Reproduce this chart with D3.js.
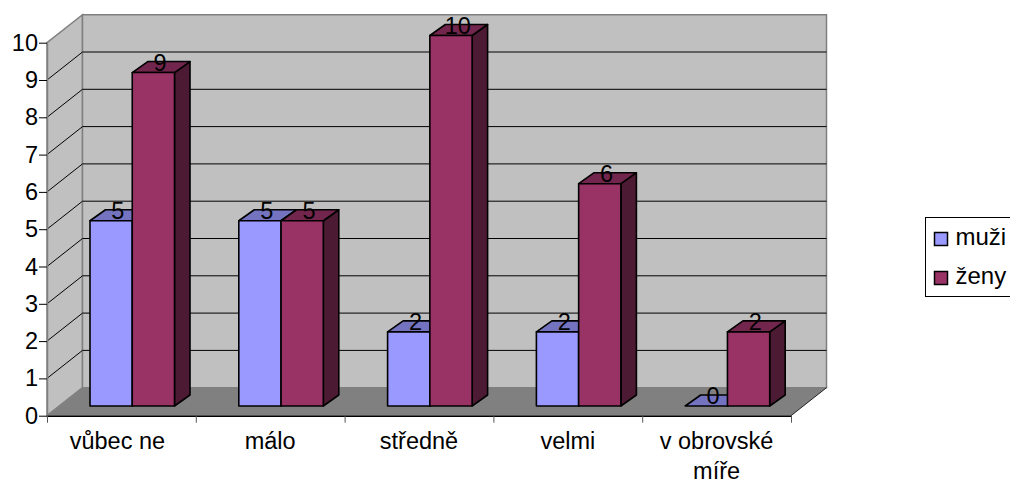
<!DOCTYPE html>
<html lang="cs">
<head>
<meta charset="utf-8">
<script src="https://cdn.jsdelivr.net/npm/d3@7"></script>
<style>
  html, body { margin: 0; padding: 0; background: #fff; overflow: hidden; }
  svg { display: block; }
  text { font-family: "Liberation Sans", Arial, sans-serif; fill: #000; }
</style>
</head>
<body>
<svg id="chart" width="1010" height="482"></svg>
<script>
// Survey answers split by gender
const categories = [["vůbec ne"], ["málo"], ["středně"], ["velmi"], ["v obrovské", "míře"]];
const seriesNames = ["muži", "ženy"];
const muzi = [5, 5, 2, 2, 0];
const zeny = [9, 5, 10, 6, 2];
const yTicks = [0, 1, 2, 3, 4, 5, 6, 7, 8, 9, 10];

const frontColors = ["#9999ff", "#993366"];
const topColors = ["#7373bf", "#73264d"];
const sideColors = ["#4d4d80", "#4d1a33"];

const svg = d3.select("#chart");

// Oblique projection: the front plane, plus a shift for the full box depth
const depth = { dx: 35.5, dy: -28 };
const x = d3.scaleLinear().domain([0, categories.length]).range([47, 791]);
const y = d3.scaleLinear().domain([0, 10]).range([415.7, 42.7]);

// Bars stand part-way into the box, with their own vertical scale and shallower depth
const barY = d3.scaleLinear().domain([0, 10]).range([406, 35.5]);
const barDepth = { dx: 15.5, dy: -11 };
const bandInner = d3.scaleBand().domain(d3.range(seriesNames.length)).range([43, 127.5]);
const barX = (c, s) => x(c) + bandInner(s);

const poly = pts => pts.map(p => p.join(",")).join(" ");

// Side wall, back wall and floor
const x0 = x(0), x1 = x(categories.length), yb = y(0), yt = y(10);
svg.append("polygon")
  .attr("points", poly([[x0, yb], [x0 + depth.dx, yb + depth.dy], [x0 + depth.dx, yt + depth.dy], [x0, yt]]))
  .attr("fill", "#c0c0c0").attr("stroke", "#808080").attr("stroke-width", 1.5);
svg.append("polygon")
  .attr("points", poly([[x0 + depth.dx, yb + depth.dy], [x1 + depth.dx, yb + depth.dy], [x1 + depth.dx, yt + depth.dy], [x0 + depth.dx, yt + depth.dy]]))
  .attr("fill", "#c0c0c0").attr("stroke", "#808080").attr("stroke-width", 1.5);

// Gridlines run along the side wall and across the back wall
const grid = svg.append("g").attr("stroke", "#000").attr("stroke-width", 1).attr("fill", "none");
yTicks.filter(t => t > 0 && t < 10).forEach(t => {
  grid.append("polyline").attr("points", poly([
    [x0, y(t)], [x0 + depth.dx, y(t) + depth.dy], [x1 + depth.dx, y(t) + depth.dy]
  ]));
});

svg.append("polygon")
  .attr("points", poly([[x0, yb], [x1, yb], [x1 + depth.dx, yb + depth.dy], [x0 + depth.dx, yb + depth.dy]]))
  .attr("fill", "#808080");
svg.append("line")
  .attr("x1", x1).attr("y1", yb).attr("x2", x1 + depth.dx).attr("y2", yb + depth.dy)
  .attr("stroke", "#000").attr("stroke-width", 0.8);

// Axes
const yAxis = svg.append("g")
  .attr("transform", `translate(${x0},0)`)
  .call(d3.axisLeft(y).tickValues(yTicks).tickSize(8).tickSizeOuter(0).tickPadding(1).tickFormat(d3.format("d")));
yAxis.select(".domain").attr("stroke", "#808080").attr("stroke-width", 1.5);
yAxis.selectAll(".tick line").attr("stroke", "#000");
yAxis.selectAll("text").attr("font-size", 23.5).attr("fill", "#000");

const xAxis = svg.append("g")
  .attr("transform", `translate(0,${yb})`)
  .call(d3.axisBottom(x).tickValues(d3.range(categories.length + 1)).tickSize(7).tickSizeOuter(0).tickFormat(""));
xAxis.select(".domain").attr("stroke", "#000").attr("stroke-width", 1.5);
xAxis.selectAll(".tick line").attr("stroke", "#555");

// Category labels, one text line per entry; the first is pulled slightly left
const catLabels = svg.append("g").attr("text-anchor", "middle").attr("font-size", 23.5);
categories.forEach((lines, c) => {
  lines.forEach((line, i) => {
    catLabels.append("text")
      .attr("x", x(c + 0.5) - (c === 0 ? 4 : 0))
      .attr("y", yb + 33.5 + i * 30)
      .text(line);
  });
});

// Bars: one front, top and side face each, painted left to right
const bars = svg.append("g").attr("stroke", "#000").attr("stroke-width", 1.6).attr("stroke-linejoin", "round");
const labels = [];
categories.forEach((_, c) => {
  [muzi, zeny].forEach((values, s) => {
    const v = values[c];
    const l = barX(c, s), r = l + bandInner.bandwidth();
    const top = barY(v), bottom = barY(0);
    const d = barDepth;
    bars.append("polygon")
      .attr("points", poly([[r, bottom], [r + d.dx, bottom + d.dy], [r + d.dx, top + d.dy], [r, top]]))
      .attr("fill", sideColors[s]);
    bars.append("polygon")
      .attr("points", poly([[l, top], [l + d.dx, top + d.dy], [r + d.dx, top + d.dy], [r, top]]))
      .attr("fill", topColors[s]);
    if (v > 0) {
      bars.append("rect")
        .attr("x", l).attr("y", top).attr("width", r - l).attr("height", bottom - top)
        .attr("fill", frontColors[s]);
    }
    labels.push({ x: (l + r) / 2 + d.dx / 2 - 1, y: top - 2, v });
  });
});

// Value labels sit over the top face of each bar
svg.append("g").attr("text-anchor", "middle").attr("font-size", 23.5)
  .selectAll("text").data(labels).join("text")
  .attr("x", d => d.x).attr("y", d => d.y)
  .attr("fill", "#111")
  .text(d => d.v);

// Legend box runs past the right edge of the page
const legend = svg.append("g");
legend.append("rect")
  .attr("x", 925.5).attr("y", 217.5).attr("width", 100).attr("height", 79)
  .attr("fill", "#fff").attr("stroke", "#000").attr("stroke-width", 1);
const legendY = d3.scalePoint().domain(seriesNames).range([239, 278]);
seriesNames.forEach((name, s) => {
  legend.append("rect")
    .attr("x", 934.5).attr("y", legendY(name) - 6.5).attr("width", 13).attr("height", 13)
    .attr("fill", frontColors[s]).attr("stroke", "#000").attr("stroke-width", 1.5);
  legend.append("text")
    .attr("x", 955.5).attr("y", legendY(name) + 6)
    .attr("font-size", 24).text(name);
});
</script>
</body>
</html>
